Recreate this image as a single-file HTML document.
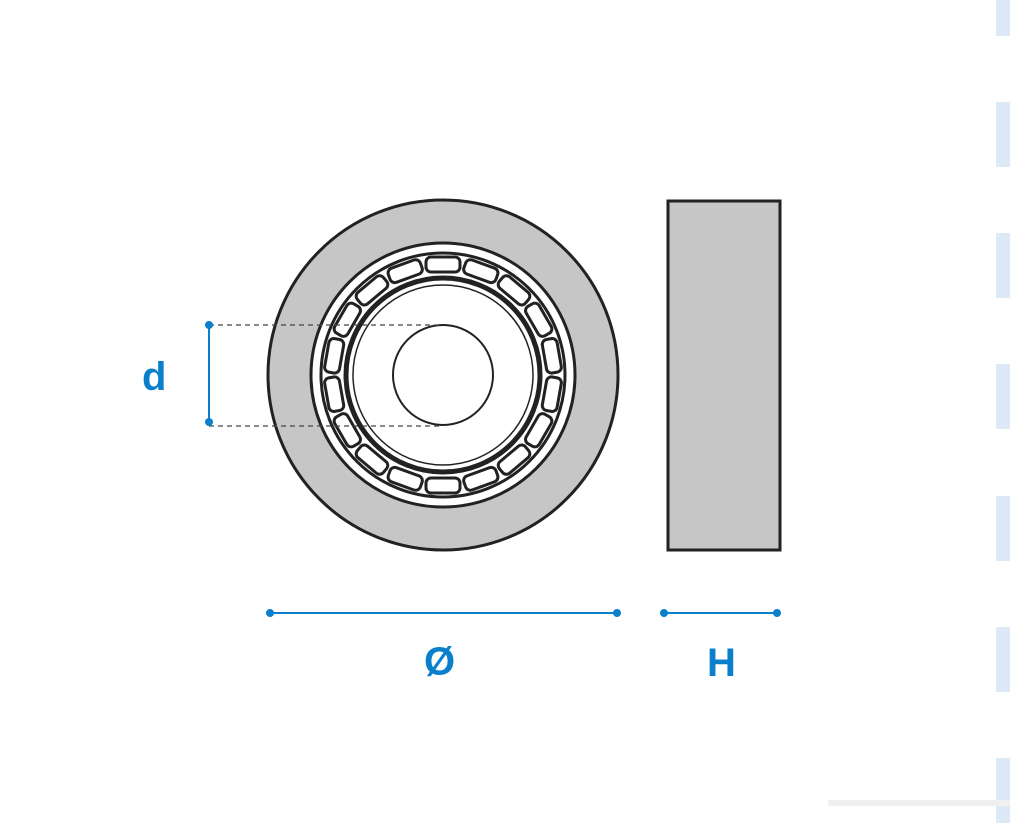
<!DOCTYPE html>
<html><head><style>
html,body{margin:0;padding:0;background:#fff;}
body{width:1010px;height:806px;overflow:hidden;position:relative;}
.b{position:absolute;left:996px;width:14px;height:65px;background:#dde9f7;}
.t{position:absolute;font-family:"Liberation Sans",sans-serif;font-weight:bold;color:#0a80cc;font-size:40px;}
</style></head><body>
<div class="b" style="top:0;height:36px"></div>
<div class="b" style="top:102px"></div>
<div class="b" style="top:233px"></div>
<div class="b" style="top:364px"></div>
<div class="b" style="top:496px"></div>
<div class="b" style="top:627px"></div>
<div class="b" style="top:758px"></div>
<div style="position:absolute;left:828px;top:800px;width:182px;height:6px;background:#f0f0f0"></div>
<svg width="1010" height="806" style="position:absolute;left:0;top:0">
<circle cx="443" cy="375" r="175" fill="#c6c6c6" stroke="#222" stroke-width="3"/>
<circle cx="443" cy="375" r="132" fill="#fff" stroke="#222" stroke-width="3"/>
<circle cx="443" cy="375" r="122" fill="#fff" stroke="#222" stroke-width="3"/>
<g id="r">
<rect x="426" y="257" width="34" height="15" rx="5" fill="#fff" stroke="#222" stroke-width="3"/>
</g>
<use href="#r" transform="rotate(20 443 375)"/>
<use href="#r" transform="rotate(40 443 375)"/>
<use href="#r" transform="rotate(60 443 375)"/>
<use href="#r" transform="rotate(80 443 375)"/>
<use href="#r" transform="rotate(100 443 375)"/>
<use href="#r" transform="rotate(120 443 375)"/>
<use href="#r" transform="rotate(140 443 375)"/>
<use href="#r" transform="rotate(160 443 375)"/>
<use href="#r" transform="rotate(180 443 375)"/>
<use href="#r" transform="rotate(200 443 375)"/>
<use href="#r" transform="rotate(220 443 375)"/>
<use href="#r" transform="rotate(240 443 375)"/>
<use href="#r" transform="rotate(260 443 375)"/>
<use href="#r" transform="rotate(280 443 375)"/>
<use href="#r" transform="rotate(300 443 375)"/>
<use href="#r" transform="rotate(320 443 375)"/>
<use href="#r" transform="rotate(340 443 375)"/>
<circle cx="443" cy="375" r="97" fill="#fff" stroke="#222" stroke-width="5"/>
<circle cx="443" cy="375" r="90" fill="none" stroke="#222" stroke-width="1.5"/>
<circle cx="443" cy="375" r="50" fill="#fff" stroke="#222" stroke-width="2"/>
<g stroke="#444" stroke-width="1.3" stroke-dasharray="5,4">
<line x1="209" y1="325" x2="443" y2="325"/>
<line x1="209" y1="426" x2="443" y2="426"/>
</g>
<rect x="668" y="201" width="112" height="349" fill="#c6c6c6" stroke="#222" stroke-width="3"/>
<g stroke="#0a80cc" stroke-width="2" fill="#0a80cc">
<line x1="209" y1="325" x2="209" y2="422"/><circle cx="209" cy="325" r="3"/><circle cx="209" cy="422" r="3"/>
<line x1="270" y1="613" x2="617" y2="613"/><circle cx="270" cy="613" r="3"/><circle cx="617" cy="613" r="3"/>
<line x1="664" y1="613" x2="777" y2="613"/><circle cx="664" cy="613" r="3"/><circle cx="777" cy="613" r="3"/>
</g>
</svg>
<div class="t" style="left:142px;top:355px">d</div>
<div class="t" style="left:424px;top:640px">Ø</div>
<div class="t" style="left:707px;top:641px">H</div>
</body></html>
